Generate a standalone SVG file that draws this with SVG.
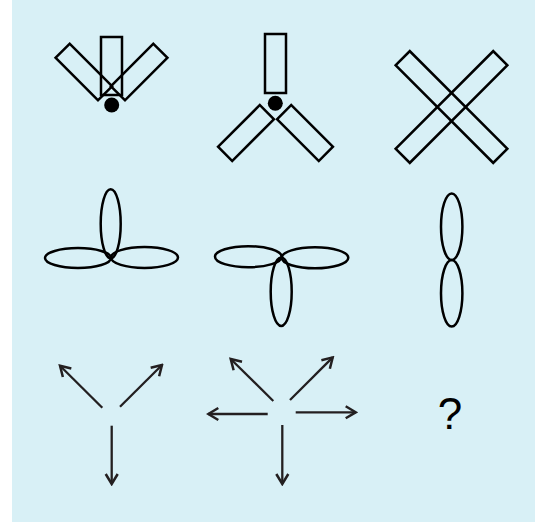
<svg xmlns="http://www.w3.org/2000/svg" width="535" height="522" viewBox="0 0 535 522">
<defs>
<style>
.s{fill:none;stroke:#000;stroke-width:2.5}
.a{fill:none;stroke:#231f20;stroke-width:2.3}
.d{fill:#000}
</style>
<marker id="ah" viewBox="-12 -8 14 16" markerWidth="14" markerHeight="16" refX="0" refY="0" orient="auto" markerUnits="userSpaceOnUse">
<path d="M-10,-6 L0,0 L-10,6" fill="none" stroke="#231f20" stroke-width="2.5"/>
</marker>
</defs>
<rect x="12" y="0" width="523" height="522" fill="#d8f0f6"/>
<g id="fig1">
<rect class="s" x="-10" y="-30" width="20" height="60" transform="translate(83.85,72) rotate(-45)"/>
<rect class="s" x="-10" y="-30" width="20" height="60" transform="translate(139.15,72) rotate(45)"/>
<rect class="s" x="101" y="37" width="21" height="58"/>
<circle class="d" cx="111.7" cy="105" r="7.5"/>
</g>
<g id="fig2">
<rect class="s" x="265" y="34" width="21" height="59"/>
<circle class="d" cx="275.3" cy="103.3" r="7.5"/>
<rect class="s" x="-10" y="-29.5" width="20" height="59" transform="translate(246,133) rotate(45)"/>
<rect class="s" x="-10" y="-29.5" width="20" height="59" transform="translate(305,133) rotate(-45)"/>
</g>
<g id="fig3">
<rect class="s" x="-10" y="-69" width="20" height="138" transform="translate(451.5,107) rotate(-45)"/>
<rect class="s" x="-10" y="-69" width="20" height="138" transform="translate(451.5,107) rotate(45)"/>
</g>
<g id="fig4">
<ellipse class="s" cx="110.7" cy="223.8" rx="10" ry="34.5"/>
<ellipse class="s" cx="78" cy="258" rx="33" ry="10"/>
<ellipse class="s" cx="144.5" cy="257.5" rx="33.5" ry="10.5"/>
</g>
<g id="fig5">
<ellipse class="s" cx="248.3" cy="256.7" rx="33.3" ry="10.5"/>
<ellipse class="s" cx="315" cy="257.8" rx="33.3" ry="10.5"/>
<ellipse class="s" cx="281.2" cy="291.7" rx="10.5" ry="34.3"/>
</g>
<g id="fig6">
<ellipse class="s" cx="451.7" cy="226.7" rx="10.7" ry="33.3"/>
<ellipse class="s" cx="451.7" cy="293.3" rx="10.7" ry="33.3"/>
</g>
<g id="connectors">
<line class="a" x1="102.3" y1="407.7" x2="60" y2="365.7" marker-end="url(#ah)"/>
<line class="a" x1="120" y1="406.7" x2="162" y2="365" marker-end="url(#ah)"/>
<line class="a" x1="111.7" y1="425.7" x2="111.7" y2="484" marker-end="url(#ah)"/>
<line class="a" x1="273.3" y1="401" x2="230.7" y2="359" marker-end="url(#ah)"/>
<line class="a" x1="290" y1="400" x2="332.7" y2="357.4" marker-end="url(#ah)"/>
<line class="a" x1="267.7" y1="414" x2="208.3" y2="414" marker-end="url(#ah)"/>
<line class="a" x1="295.7" y1="412.3" x2="355.7" y2="412.3" marker-end="url(#ah)"/>
<line class="a" x1="282.3" y1="425" x2="282.3" y2="484" marker-end="url(#ah)"/>
</g>
<text x="450" y="429" font-family="Liberation Sans, Arial, sans-serif" font-size="44" text-anchor="middle" fill="#000">?</text>
</svg>
